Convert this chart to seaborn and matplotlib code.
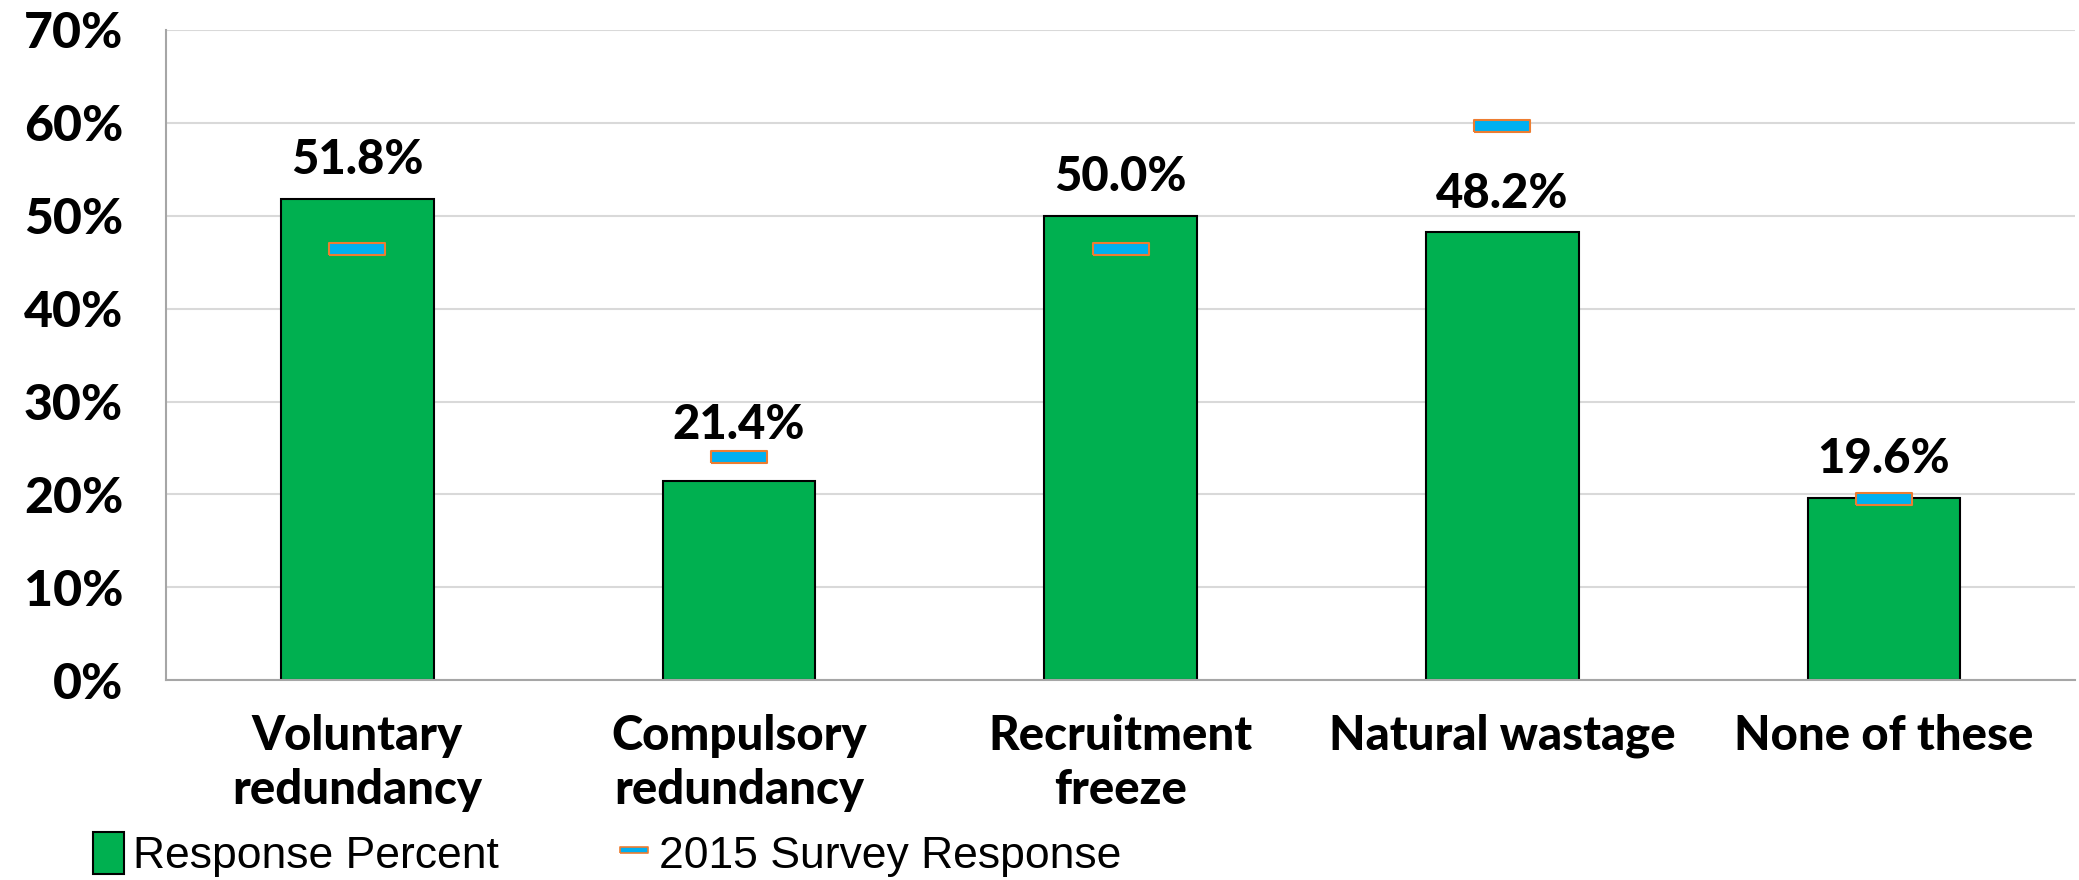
import numpy as np
import pandas as pd
import matplotlib
matplotlib.use("Agg")
import matplotlib.pyplot as plt
from matplotlib.patches import Patch
from matplotlib.lines import Line2D
from matplotlib.ticker import FixedLocator
import seaborn as sns

categories = ["Voluntary\nredundancy", "Compulsory\nredundancy", "Recruitment\nfreeze",
              "Natural wastage", "None of these"]
response_pct = [51.8, 21.4, 50.0, 48.2, 19.6]
survey_2015 = [46.4, 24.0, 46.4, 59.7, 19.5]
y_ticks = [0, 10, 20, 30, 40, 50, 60, 70]
label_pads = [12, 25, 12, 12, 12]

df = pd.DataFrame({"category": categories, "response": response_pct, "y2015": survey_2015})

sns.set_style("white")
plt.rcParams["font.family"] = ["Lato", "DejaVu Sans"]
plt.rcParams["text.color"] = "black"
plt.rcParams["xtick.color"] = "black"
plt.rcParams["ytick.color"] = "black"

bar_green = "#00B050"
marker_blue = "#00B0F0"
marker_edge = "#ED7D31"
rect = [(-5, -1), (5, -1), (5, 1), (-5, 1), (-5, -1)]

fig = plt.figure(figsize=(20.79, 8.8), dpi=100)
ax = fig.add_axes([0.080, 0.227, 0.918, 0.739])

sns.barplot(data=df, x="category", y="response", color=bar_green, edgecolor="black",
            linewidth=1.5, width=0.4, saturation=1, ax=ax)
sns.scatterplot(data=df, x="category", y="y2015", marker=rect, s=1620, color=marker_blue,
                edgecolor=marker_edge, linewidth=1.5, zorder=5, ax=ax)

labels = ax.bar_label(ax.containers[0], labels=[f"{v:.1f}%" for v in response_pct], padding=12,
                      fontsize=34, fontweight="black", color="black")
for lab, pad in zip(labels, label_pads):
    lab.xyann = (0, pad)

ax.set_ylim(0, 70)
ax.set_xlim(-0.5, len(categories) - 0.5)
ax.set_yticks(y_ticks)
ax.set_yticklabels([f"{t}%" for t in y_ticks], fontsize=36, fontweight="black")
ax.yaxis.grid(True, color="#d9d9d9", linewidth=1.5)
ax.set_axisbelow(True)
ax.tick_params(axis="y", length=15, color="#a6a6a6", width=1.5, pad=16, labelcolor="black")

ax.set_xticks(range(len(categories)))
ax.set_xticklabels(categories, fontsize=34, fontweight="black", linespacing=1.28)
ax.tick_params(axis="x", which="major", length=0, pad=24, labelcolor="black")
ax.xaxis.set_minor_locator(FixedLocator(np.arange(-0.5, len(categories), 1.0)))
ax.tick_params(axis="x", which="minor", length=10, color="#a6a6a6", width=1.5)
ax.set_xlabel("")
ax.set_ylabel("")

for side in ["top", "right"]:
    ax.spines[side].set_visible(False)
for side in ["left", "bottom"]:
    ax.spines[side].set_color("#a6a6a6")
    ax.spines[side].set_linewidth(1.5)

handles = [
    Patch(facecolor=bar_green, edgecolor="black", linewidth=1.5, label="Response Percent"),
    Line2D([], [], linestyle="none", marker=rect, markersize=20, markerfacecolor=marker_blue,
           markeredgecolor=marker_edge, markeredgewidth=1.2, label="2015 Survey Response"),
]
fig.legend(handles=handles, loc="lower left", bbox_to_anchor=(0.034, -0.022), ncol=2,
           frameon=False, borderpad=0, labelcolor="black",
           prop={"family": ["Liberation Sans", "DejaVu Sans"], "size": 32},
           handlelength=0.7, handleheight=1.1, handletextpad=0.2, columnspacing=2.7)

fig.savefig("out.png", dpi=100)
